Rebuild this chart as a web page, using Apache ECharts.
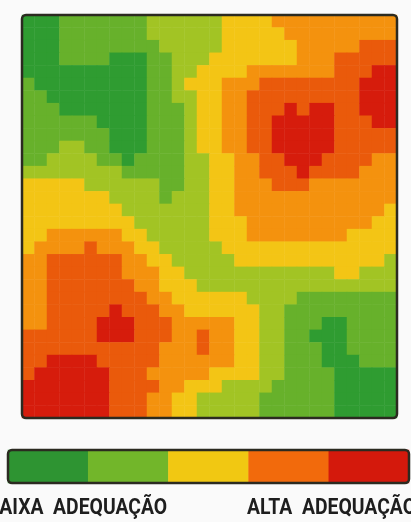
<!DOCTYPE html>
<html>
<head>
<meta charset="utf-8">
<script src="https://cdn.jsdelivr.net/npm/echarts@6/dist/echarts.min.js"></script>
<style>
  body { margin: 0; background: #fafafa; }
  #chart { width: 411px; height: 522px; }
</style>
</head>
<body>
<div id="chart"></div>
<script>
// suitability level per cell (0 = lowest, 6 = highest), read row by row from top
var levelRows = [
  '000111111122222233334444444444',
  '000111111122222233333444444444',
  '000111111112222233333344444555',
  '000111100011222333333344455555',
  '000000000011223333444444455566',
  '100000000011233344455555555666',
  '110000000011223344555555555666',
  '111000000011123344555656655666',
  '111111000011123344556666655566',
  '111111100011123344556666655555',
  '111221100011123344556666655555',
  '112222110111122334455666555544',
  '222222221111122334455565555444',
  '333332222221122334445554444444',
  '333333322221222334444444444444',
  '333333332222222334444444444443',
  '333333333222222333444444444433',
  '334444443322222333444444443333',
  '344445444332222233333333333333',
  '445555554433222223333333333332',
  '445555554443322222222222233222',
  '445555555443332222222222222222',
  '445555555544333333222211111111',
  '445555565554433333322111111111',
  '445555666555444443322111001111',
  '555555666555445443322110001111',
  '555555555554445443322111001111',
  '556666555554444443322111000111',
  '566666655544444333322111100000',
  '666666655554433322221111100000',
  '666666655544332222211111100000',
  '666666655544332222211111100000'
];
var levelColors = ['#2f9c31', '#67b12b', '#a2c424', '#f3c515', '#f4920e', '#ea5a0b', '#d61c0c'];
var legendColors = ['#2e9432', '#72b62a', '#f1c812', '#f26a0c', '#d4190c'];
var legendLabels = ['BAIXA  ADEQUAÇÃO', 'ALTA  ADEQUAÇÃO'];

var cols = [], rows = [], cells = [];
for (var i = 0; i < levelRows[0].length; i++) cols.push(i);
for (var j = 0; j < levelRows.length; j++) {
  rows.push(j);
  for (var k = 0; k < levelRows[j].length; k++) {
    cells.push([k, j, +levelRows[j][k]]);
  }
}

var legendCells = [];
for (var n = 0; n < legendColors.length; n++) {
  legendCells.push({ value: [n, 0, n], itemStyle: { color: legendColors[n] } });
}

var pieces = levelColors.map(function (c, idx) {
  return { value: idx, color: c };
});

// label under the colour bar
function label(txt, x) {
  return {
    type: 'text',
    x: x,
    y: 497,
    scaleX: 0.88,
    style: {
      text: txt,
      fill: '#1e1e1e',
      font: 'bold 22px Roboto, "DejaVu Sans", sans-serif'
    }
  };
}

var myChart = echarts.init(document.getElementById('chart'));

var option = {
  backgroundColor: '#fafafa',
  animation: false,
  grid: [
    { left: 22, top: 15, width: 375, height: 403 },
    { left: 8, top: 450, width: 401, height: 33 }
  ],
  xAxis: [
    { type: 'category', data: cols, show: false, gridIndex: 0 },
    { type: 'category', data: legendColors.map(function (c, idx) { return idx; }), show: false, gridIndex: 1 }
  ],
  yAxis: [
    { type: 'category', data: rows, show: false, inverse: true, gridIndex: 0 },
    { type: 'category', data: [0], show: false, gridIndex: 1 }
  ],
  visualMap: {
    type: 'piecewise',
    show: false,
    seriesIndex: 0,
    dimension: 2,
    pieces: pieces
  },
  series: [
    {
      type: 'heatmap',
      xAxisIndex: 0,
      yAxisIndex: 0,
      data: cells,
      itemStyle: { borderWidth: 0 },
      emphasis: { disabled: true }
    },
    {
      type: 'heatmap',
      xAxisIndex: 1,
      yAxisIndex: 1,
      data: legendCells,
      emphasis: { disabled: true }
    }
  ],
  graphic: [
    {
      type: 'rect',
      z: 100,
      shape: { x: 22, y: 15, width: 375, height: 403, r: 4 },
      style: { fill: 'none', stroke: '#2b2a20', lineWidth: 2.5 }
    },
    {
      type: 'rect',
      z: 100,
      shape: { x: 8, y: 450, width: 401, height: 33, r: 4 },
      style: { fill: 'none', stroke: '#2b2a20', lineWidth: 2.5 }
    },
    label(legendLabels[0], -13),
    label(legendLabels[1], 247)
  ]
};

myChart.setOption(option);
</script>
</body>
</html>
